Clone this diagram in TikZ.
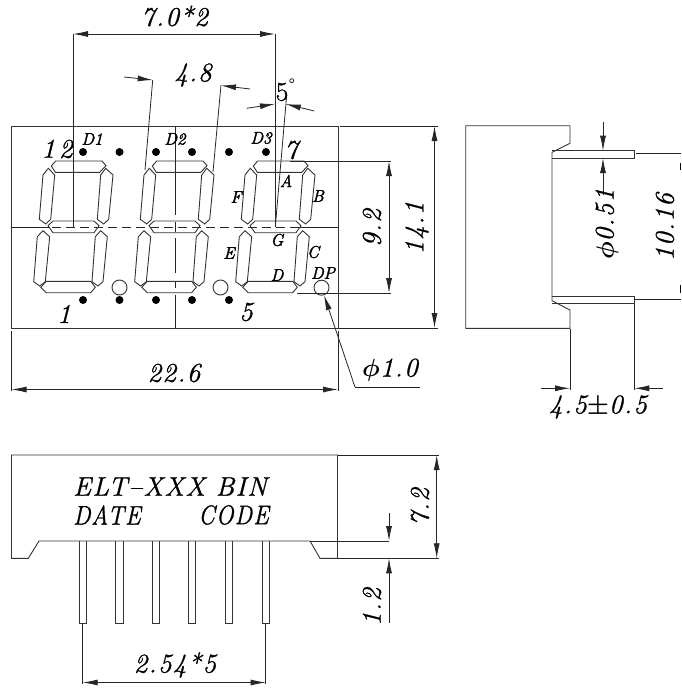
\documentclass[tikz,border=0pt]{standalone}
\usepackage{fontspec}
\usepackage{amsmath, amssymb}
\usetikzlibrary{calc,arrows.meta}
\newfontfamily\dimfont[LetterSpace=5,FakeBold=1]{Latin Modern Roman}
\newfontfamily\pinfont[FakeBold=2]{Latin Modern Roman}
\tikzset{
    part/.style={draw=black!80,line width=0.9pt},
    thin line/.style={draw=black!85,line width=0.8pt},
    dimline/.style={draw=black!85,line width=0.8pt,{Latex[length=15pt,width=6pt]}-{Latex[length=15pt,width=6pt]}},
    tip end/.style={draw=black!85,line width=0.8pt,-{Latex[length=15pt,width=6pt]}},
    dimtext/.style={font=\dimfont\itshape\fontsize{27}{27}\selectfont,inner sep=0pt},
    pintext/.style={font=\pinfont\itshape\fontsize{17}{17}\selectfont,inner sep=0pt},
    dot/.style={circle,fill=black,inner sep=0pt,minimum size=8pt},
    opendot/.style={circle,draw=black!80,line width=0.9pt,inner sep=0pt,minimum size=15pt}
}
\begin{document}
\begin{tikzpicture}[x=1pt,y=-1pt]
    \useasboundingbox (0,0) rectangle (681,688);
    % front view
    \draw[part] (11.5,126) rectangle (338,328);
    \draw[thin line] (11.5,227) -- (50,227);
    \draw[thin line] (300,227) -- (338,227);
    \draw[thin line,dash pattern=on 9pt off 5pt] (52,227) -- (300,227);
    \foreach \a/\b in {127/215,222/232,238/273,282/288,295/328}
    \draw[thin line] (175,\a) -- (175,\b);
    % digits
    \foreach \d in {-202,-101,0}
    {
        \draw[part,shift={(\d,0)}] (253.3,166) -- (257.7,161) -- (304,161) -- (308,165.7) -- (301.7,172.3) -- (257.3,172.3) -- cycle;
        \draw[part,shift={(\d,0)}] (245,175) -- (250.3,168.3) -- (256.7,175) -- (252.7,219.3) -- (247.7,224) -- (241.3,219.3) -- cycle;
        \draw[part,shift={(\d,0)}] (302.7,175) -- (307.7,168.3) -- (315,175) -- (310.7,219.3) -- (305.7,224) -- (299.3,219.3) -- cycle;
        \draw[part,shift={(\d,0)}] (250,225.7) -- (255,221) -- (296,221) -- (301,225.7) -- (296,232.7) -- (255,232.7) -- cycle;
        \draw[part,shift={(\d,0)}] (239.3,236.7) -- (245,230.7) -- (251.7,236.7) -- (247.3,281.7) -- (241.7,286) -- (235.7,281.7) -- cycle;
        \draw[part,shift={(\d,0)}] (297.3,236.7) -- (302.7,230.7) -- (309.3,236.7) -- (305,281.7) -- (300,286) -- (294,281.7) -- cycle;
        \draw[part,shift={(\d,0)}] (242.7,287.3) -- (248.3,281.3) -- (292.7,281.3) -- (297.3,287.3) -- (292.7,292.7) -- (248.3,292.7) -- cycle;
    }
    \foreach \x in {83,119.5,156,192,229,266}
    \node[dot] at (\x,152) {};
    \foreach \x in {83,119.5,156,192,229}
    \node[dot] at (\x,300) {};
    \node[opendot] (dpa) at (119.5,287.5) {};
    \node[opendot] (dpb) at (220.5,287.5) {};
    \node[opendot] (dpc) at (321.5,287.7) {};
    % pin and segment names
    \node[dimtext] at (57,149) {1\kern4pt 2};
    \node[dimtext] at (64,314) {1};
    \node[dimtext] at (246,312) {5};
    \node[dimtext] at (291,150) {7};
    \node[pintext] at (92,139) {D1};
    \node[pintext] at (175,139) {D2};
    \node[pintext] at (261,138) {D3};
    \node[pintext] at (286,181) {A};
    \node[pintext] at (318,196) {B};
    \node[pintext] at (313,252) {C};
    \node[pintext] at (277,275) {D};
    \node[pintext] at (229,253) {E};
    \node[pintext] at (236,197) {F};
    \node[pintext] at (277,240) {G};
    \node[pintext] at (323,273) {DP};
    % dimensions, top
    \draw[thin line] (73,227) -- (73,34);
    \draw[thin line] (275,227) -- (275,34);
    \draw[dimline] (73,34) -- (275,34);
    \node[dimtext] at (174.5,16) {7.0\kern1pt*\kern1pt2};
    \draw[thin line] (145,170) -- (152.7,80);
    \draw[thin line] (213,172) -- (221,85);
    \draw[tip end] (124,77) -- (152.7,80);
    \draw[tip end] (250,89) -- (221,85.5);
    \node[dimtext] at (193,75) {4\kern1pt.\kern1pt8};
    \draw[thin line] (275.3,226.7) -- (286.7,95);
    \draw[tip end] (246.7,108.3) -- (275,104);
    \draw[tip end] (314.3,111) -- (285.7,104);
    \node[dimtext] at (282,92) {\upshape 5};
    \draw[thin line] (291.7,80.7) circle (2pt);
    % dimensions, right of front view
    \draw[thin line] (290,161) -- (391,161);
    \draw[thin line] (297,293.2) -- (391,293.2);
    \draw[dimline] (389,161) -- (389,293.2);
    \node[dimtext,rotate=90] at (372,228) {9.2};
    \draw[thin line] (340,126) -- (438,126);
    \draw[thin line] (338,328) -- (438,328);
    \draw[dimline] (434.5,126) -- (434.5,328);
    \node[dimtext,rotate=90] at (417,228) {14.1};
    % dimensions, below front view
    \draw[thin line] (11.5,331) -- (11.5,391);
    \draw[thin line] (338,331) -- (338,391);
    \draw[dimline] (11.5,389.5) -- (338,389.5);
    \node[dimtext] at (174,373) {22.6};
    \coordinate (phibend) at (355,387);
    \coordinate (phiend) at (420,387);
    \draw[thin line] (phiend) -- (phibend);
    \draw[tip end] (phibend) -- (dpc);
    \node[dimtext] at (390,370) {$\boldsymbol{\phi}$1.0};
    % side view
    \draw[part] (465.7,125.7) -- (570,125.7) -- (570,143.3) -- (552,152.3) -- (552,300.7) -- (570,310) -- (570,328.3) -- (465.7,328.3) -- cycle;
    \draw[part] (552,150.7) -- (634.3,150.7) -- (634.3,158) -- (552,158);
    \draw[part] (552,296.7) -- (634.3,296.7) -- (634.3,303.7) -- (552,303.7);
    \draw[thin line] (636,153.3) -- (681,153.3);
    \draw[thin line] (634.3,299.7) -- (681,299.7);
    \draw[line width=1pt] (680.5,163) -- (680.5,170);
    \draw[line width=1pt] (680.5,285) -- (680.5,293);
    \draw[tip end] (603,122) -- (603,150.7);
    \draw[tip end] (603,195) -- (603,158);
    \node[dimtext,rotate=90] at (607,224) {$\boldsymbol{\phi}$0.51};
    \node[dimtext,rotate=90] at (665,227) {10.16};
    \draw[thin line] (570,329) -- (570,390);
    \draw[thin line] (634.3,304) -- (634.3,390);
    \draw[tip end] (540.7,388.3) -- (570,388.3);
    \draw[tip end] (663,388.3) -- (634.3,388.3);
    \node[dimtext] at (598,407) {4.5$\boldsymbol{\pm}$0.5};
    % bottom view
    \draw[part] (11.5,455) -- (337.5,455) -- (337.5,558.3) -- (320,558.3) -- (310,541) -- (39,541) -- (28.3,558.3) -- (11.5,558.3) -- cycle;
    \foreach \x in {82.7,119.3,156,192,229,266}
    \draw[part,shift={(\x,0)}] (-3.7,541) -- (-3.7,623.3) -- (3.7,623.3) -- (3.7,541);
    \node[dimtext,anchor=west] at (73,486.5) {ELT\textendash XXX BIN};
    \node[dimtext,anchor=west,transform shape,xscale=.87] at (73,515) {DATE};
    \node[dimtext,anchor=east,transform shape,xscale=.87] at (269,515) {CODE};
    \draw[thin line] (338,455) -- (439,455);
    \draw[thin line] (338,558.3) -- (439,558.3);
    \draw[thin line] (310,541) -- (389,541);
    \draw[dimline] (436.7,455) -- (436.7,558.3);
    \node[dimtext,rotate=90] at (420,507) {7.2};
    \draw[tip end] (389,512.7) -- (389,541);
    \draw[tip end] (389,623) -- (389,558.3);
    \node[dimtext,rotate=90] at (372,607) {1.2};
    \draw[thin line] (82.7,624) -- (82.7,684);
    \draw[thin line] (265.7,624) -- (265.7,684);
    \draw[dimline] (82.7,682.5) -- (265.7,682.5);
    \node[dimtext] at (175,665) {2.54*5};
\end{tikzpicture}
\end{document}
